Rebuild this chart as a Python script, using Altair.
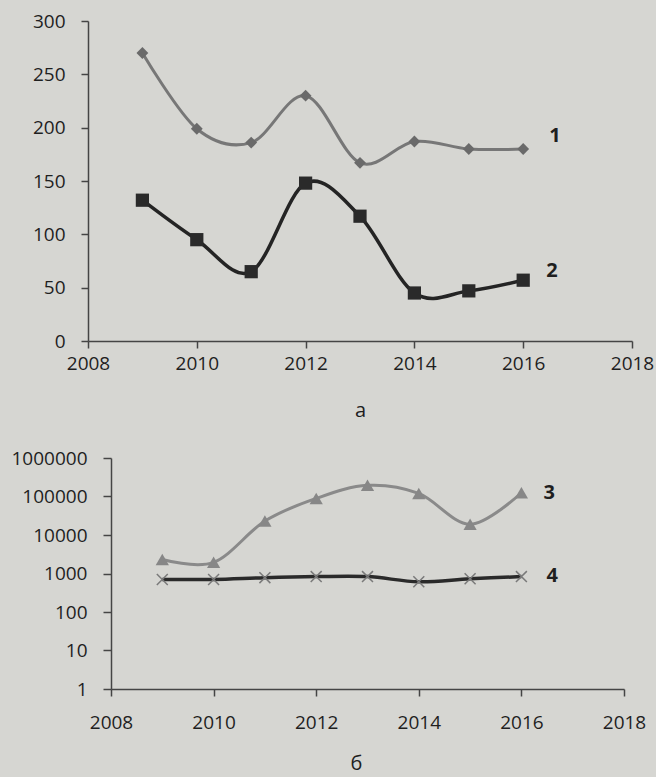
import altair as alt
import pandas as pd

# Observation years and the four indicator series
years = [2009, 2010, 2011, 2012, 2013, 2014, 2015, 2016]
series_1 = [270, 199, 186, 230, 167, 187, 180, 180]
series_2 = [132, 95, 65, 148, 117, 45, 47, 57]
series_3 = [2300, 1950, 23000, 89000, 195000, 120000, 19000, 125000]
series_4 = [700, 700, 780, 830, 830, 610, 730, 830]

series_names = ["1", "2", "3", "4"]
x_ticks = [2008, 2010, 2012, 2014, 2016, 2018]
y_ticks_linear = [0, 50, 100, 150, 200, 250, 300]
y_ticks_log = [1, 10, 100, 1000, 10000, 100000, 1000000]
captions = ["а", "б"]

FONT = "Open Sans"
INK = "#1f1f1f"
AXIS = "#454545"


def frame(values, name):
    return pd.DataFrame({"year": years, "value": values, "series": name})


def series_layers(df, x, y, line_color, line_width, marker, dx, dy):
    base = alt.Chart(df)
    line = base.mark_line(
        interpolate="cardinal", color=line_color, strokeWidth=line_width
    ).encode(x=x, y=y)
    pts = base.mark_point(**marker).encode(x=x, y=y)
    last = df.tail(1)
    label = alt.Chart(last).mark_text(
        align="left", baseline="middle", dx=dx, dy=dy,
        font=FONT, fontSize=20, fontWeight="bold", color=INK,
    ).encode(x=x, y=y, text="series:N")
    return [line, pts, label]


# ---- panel а: linear scale ----
x_top = alt.X(
    "year:Q",
    scale=alt.Scale(domain=[2008, 2018], nice=False, zero=False),
    axis=alt.Axis(values=x_ticks, format="d", title=captions[0], labelFlush=False,
                  tickSize=7, labelPadding=6, titlePadding=27),
)
y_top = alt.Y(
    "value:Q",
    scale=alt.Scale(domain=[0, 300], nice=False),
    axis=alt.Axis(values=y_ticks_linear, title=None, tickSize=7, labelPadding=16),
)

top_layers = (
    series_layers(frame(series_1, series_names[0]), x_top, y_top, "#777777", 3,
                  dict(shape="diamond", filled=True, size=140, color="#6a6a6a", opacity=1),
                  26, -13)
    + series_layers(frame(series_2, series_names[1]), x_top, y_top, "#242424", 3.5,
                    dict(shape="square", filled=True, size=175, color="#2a2a2a", opacity=1),
                    23, -9)
)
top = alt.layer(*top_layers).properties(width=544, height=320)

# ---- panel б: logarithmic scale ----
x_bot = alt.X(
    "year:Q",
    scale=alt.Scale(domain=[2008, 2018], range=[23, 536], nice=False, zero=False),
    axis=alt.Axis(values=x_ticks, format="d", title=captions[1], labelFlush=False,
                  tickSize=7, labelPadding=17, titlePadding=21, titleX=268),
)
y_bot = alt.Y(
    "value:Q",
    scale=alt.Scale(type="log", domain=[1, 1000000], nice=False),
    axis=alt.Axis(values=y_ticks_log, format="d", title=None, tickSize=8,
                  labelPadding=16, offset=-23),
)

bottom_layers = (
    series_layers(frame(series_3, series_names[2]), x_bot, y_bot, "#8a8a8a", 3,
                  dict(shape="triangle-up", filled=True, size=175, color="#878787", opacity=1),
                  22, 0)
    + series_layers(frame(series_4, series_names[3]), x_bot, y_bot, "#2a2a2a", 3.5,
                    dict(shape="M-1,-1L1,1M-1,1L1,-1", filled=False, size=120,
                         color="#7a7a7a", strokeWidth=1.5, opacity=1),
                    25, -1)
)
bottom = alt.layer(*bottom_layers).properties(width=544, height=231)

chart = (
    alt.vconcat(top, bottom, spacing=117, bounds="flush")
    .properties(padding={"left": 10, "top": 12, "right": 2, "bottom": 12},
                background="#d6d6d2")
    .configure_view(stroke=None)
    .configure_axis(
        grid=False, domainColor=AXIS, tickColor=AXIS, domainWidth=1.5, tickWidth=1.5,
        labelFont=FONT, labelFontSize=19, labelColor=INK,
        titleFont=FONT, titleFontSize=20, titleFontWeight="normal", titleColor=INK,
    )
)

chart.save("out.html", embed_options={"renderer": "svg", "actions": False})
